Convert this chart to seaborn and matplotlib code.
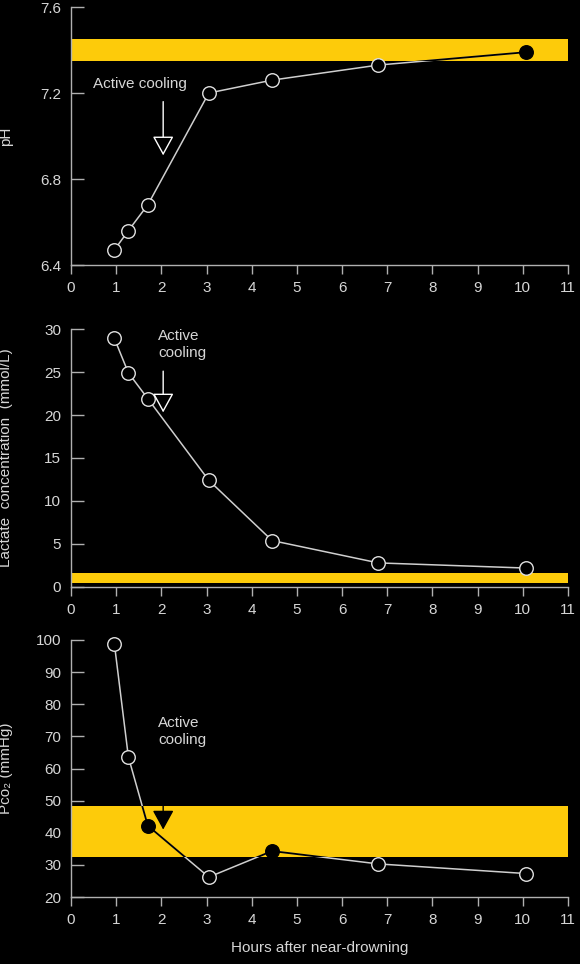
import matplotlib
matplotlib.use("Agg")
import matplotlib.pyplot as plt
from matplotlib.patches import Rectangle
import pandas as pd
import seaborn as sns

# hours after near-drowning (same sample times in all three panels)
hours = [0.96, 1.27, 1.70, 3.05, 4.45, 6.80, 10.07]

ph_values = [6.47, 6.56, 6.68, 7.20, 7.26, 7.33, 7.39]
ph_filled = [False, False, False, False, False, False, True]
ph_band = (7.35, 7.45)

lactate_values = [28.9, 24.9, 21.9, 12.4, 5.4, 2.8, 2.2]
lactate_filled = [False] * 7
lactate_band = (0.5, 1.6)

pco2_values = [98.8, 63.6, 42.2, 26.2, 34.3, 30.3, 27.3]
pco2_filled = [False, False, True, False, True, False, False]
pco2_band = (32.5, 48.2)

xticks = list(range(0, 12))

sns.set_style("dark")
plt.rcParams["font.family"] = ["Liberation Sans", "DejaVu Sans"]

FG = "#d6d6d6"
SPINE = "#b0b0b0"
YELLOW = "#fdcb0a"

fig = plt.figure(figsize=(5.8, 9.64), dpi=100, facecolor="black")

panels = [
    dict(vals=ph_values, filled=ph_filled, band=ph_band, ylim=(6.4, 7.6),
         yticks=[6.4, 6.8, 7.2, 7.6], ylabel="pH",
         rect=[0.1224, 0.7251, 0.857, 0.2676],
         text=(0.48, 7.24, "Active cooling"), arrow=((2.04, 7.16), (2.04, 6.91)),
         arrow_fc="black", arrow_ec="white"),
    dict(vals=lactate_values, filled=lactate_filled, band=lactate_band, ylim=(0, 30),
         yticks=[0, 5, 10, 15, 20, 25, 30], ylabel="Lactate  concentration  (mmol/L)",
         rect=[0.1224, 0.3911, 0.857, 0.2676],
         text=(1.93, 28.2, "Active\ncooling"), arrow=((2.04, 25.1), (2.04, 20.3)),
         arrow_fc="black", arrow_ec="white"),
    dict(vals=pco2_values, filled=pco2_filled, band=pco2_band, ylim=(20, 100),
         yticks=[20, 30, 40, 50, 60, 70, 80, 90, 100], ylabel="Pco\u2082 (mmHg)",
         rect=[0.1224, 0.0695, 0.857, 0.2666],
         text=(1.93, 71.5, "Active\ncooling"), arrow=((2.04, 65.0), (2.04, 41.0)),
         arrow_fc="black", arrow_ec="black"),
]

for i, p in enumerate(panels):
    ax = fig.add_axes(p["rect"])
    ax.set_facecolor("black")
    ax.grid(False)
    df = pd.DataFrame({"hours": hours, "value": p["vals"], "filled": p["filled"]})
    lo, hi = p["band"]
    ax.axhspan(lo, hi, color=YELLOW, zorder=1, lw=0)

    # line: light on black, black where it runs through the normal-range band
    sns.lineplot(data=df, x="hours", y="value", color="#cfcfcf", lw=1.1, ax=ax, zorder=2)
    sns.lineplot(data=df, x="hours", y="value", color="black", lw=1.3, ax=ax, zorder=3)
    clip = Rectangle((0, lo), 11, hi - lo, transform=ax.transData)
    ax.lines[-1].set_clip_path(clip)

    open_pts = df[~df["filled"]]
    full_pts = df[df["filled"]]
    sns.scatterplot(data=open_pts, x="hours", y="value", s=95, color="black",
                    edgecolor="#e0e0e0", linewidth=1.0, ax=ax, zorder=4, clip_on=False)
    if len(full_pts):
        sns.scatterplot(data=full_pts, x="hours", y="value", s=95, color="black",
                        edgecolor="black", linewidth=1.0, ax=ax, zorder=4, clip_on=False)

    tx, ty, txt = p["text"]
    ax.text(tx, ty, txt, color=FG, fontsize=11, ha="left", va="center", linespacing=1.25)
    (ax0, ay0), (ax1, ay1) = p["arrow"]
    ax.annotate("", xy=(ax1, ay1), xytext=(ax0, ay0),
                arrowprops=dict(arrowstyle="-|>,head_length=1.0,head_width=0.55",
                                fc=p["arrow_fc"], ec=p["arrow_ec"], lw=1.0,
                                shrinkA=0, shrinkB=0, mutation_scale=12),
                zorder=5)

    ax.set_xlim(0, 11)
    ax.set_ylim(*p["ylim"])
    ax.set_xticks(xticks)
    ax.set_yticks(p["yticks"])
    ax.set_yticklabels([f"{v:g}" for v in p["yticks"]])
    for s in ["top", "right"]:
        ax.spines[s].set_visible(False)
    for s in ["left", "bottom"]:
        ax.spines[s].set_visible(True)
        ax.spines[s].set_color(SPINE)
        ax.spines[s].set_linewidth(1.0)
    ax.tick_params(axis="y", direction="in", length=9, width=1.0, color=SPINE,
                   labelcolor=FG, labelsize=11, pad=7, left=True)
    ax.tick_params(axis="x", direction="out", length=6.5, width=1.0, color=SPINE,
                   labelcolor=FG, labelsize=11, pad=5, bottom=True)
    ax.set_ylabel(p["ylabel"], color=FG, fontsize=11)
    ax.yaxis.set_label_coords(-0.117, 0.5)
    if i == 2:
        ax.set_xlabel("Hours after near-drowning", color=FG, fontsize=11, labelpad=10)
    else:
        ax.set_xlabel("")

fig.savefig("out.png", dpi=100, facecolor="black")
